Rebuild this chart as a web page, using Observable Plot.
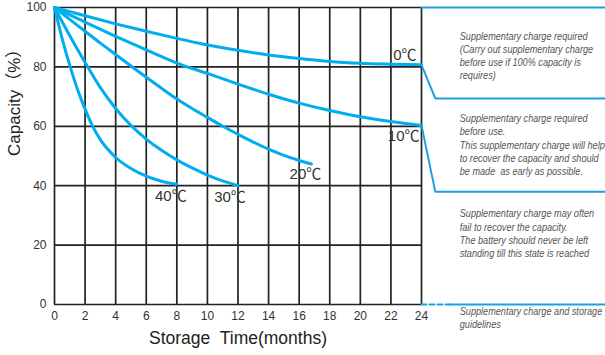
<!DOCTYPE html>
<html>
<head>
<meta charset="utf-8">
<script src="https://cdn.jsdelivr.net/npm/d3@7"></script>
<script src="https://cdn.jsdelivr.net/npm/@observablehq/plot@0.6"></script>
<style>
  html, body { margin: 0; padding: 0; background: #fff; }
  #chart { width: 605px; height: 355px; }
</style>
</head>
<body>
<div id="chart"></div>
<script>
// ---- Data ----
const series = ["0℃", "10℃", "20℃", "30℃", "40℃"];
const months0  = [0, 1, 2, 4, 6, 8, 10, 12, 14, 16, 18, 20, 22, 24];
const cap0     = [100, 98.6, 97.2, 94.5, 92, 89.6, 87.4, 85.6, 84, 82.8, 81.8, 81.2, 80.9, 80.7];
const months10 = [0, 1, 2, 4, 6, 8, 10, 12, 14, 16, 18, 20, 22, 24];
const cap10    = [100, 97.5, 95.1, 90.3, 85.7, 81.3, 77.8, 74.2, 70.8, 67.8, 65.3, 63.2, 61.6, 60.3];
const months20 = [0, 1, 2, 3, 4, 5, 6, 7, 8, 9, 10, 11, 12, 13, 14, 15, 16, 16.8];
const cap20    = [100, 96, 92, 88, 84.2, 80.3, 76.5, 72.8, 69.2, 66, 63, 60, 57.3, 54.7, 52.3, 50.2, 48.5, 47.3];
const months30 = [0, 1, 2, 3, 4, 5, 6, 7, 8, 9, 10, 11, 12];
const cap30    = [100, 90.5, 81.5, 73, 66, 60.3, 55.7, 51.9, 48.7, 46, 43.6, 41.6, 40];
const months40 = [0, 0.5, 1, 1.5, 2, 2.5, 3, 4, 5, 6, 7, 8];
const cap40    = [100, 89.5, 80.5, 72.5, 65.8, 60, 55.5, 49.5, 45.8, 43.2, 41.5, 40.5];

const xTicks = [0, 2, 4, 6, 8, 10, 12, 14, 16, 18, 20, 22, 24];
const yTicks = [0, 20, 40, 60, 80, 100];
const xTitle = "Storage  Time(months)";
const yTitle = "Capacity（%）";

// guideline zones on the right (x in months beyond the plot, y in %)
const zoneTopX = [24, 36];          const zoneTopY = [100, 100];
const zone1X   = [24, 24.9, 36];    const zone1Y   = [80.7, 69.4, 69.4];
const zone2X   = [24, 24.9, 36];    const zone2Y   = [60.3, 38.0, 38.0];
const zone3DashX = [24, 25.8];      const zone3DashY = [0, 0];
const zone3X   = [25.8, 36];        const zone3Y   = [0, 0];
const notes = [
  "Supplementary charge required\n(Carry out supplementary charge\nbefore use if 100% capacity is\nrequires)",
  "Supplementary charge required\nbefore use.\nThis supplementary charge will help\nto recover the capacity and should\nbe made  as early as possible.",
  "Supplementary charge may often\nfail to recover the capacity.\nThe battery should never be left\nstanding till this state is reached",
  "Supplementary charge and storage\nguidelines"
];
const notesX = [26.5, 26.5, 26.5, 26.5];
const notesY = [83.8, 53.9, 24.1, -4.2];

// ---- Build table ----
const monthsAll = [months0, months10, months20, months30, months40];
const capsAll = [cap0, cap10, cap20, cap30, cap40];
const rows = [];
series.forEach((s, i) => monthsAll[i].forEach((m, j) => rows.push({series: s, month: m, cap: capsAll[i][j]})));
const ends = series.map((s, i) => ({series: s, month: monthsAll[i][monthsAll[i].length - 1], cap: capsAll[i][capsAll[i].length - 1]}));
const labelDx = [-5, -2, -6, -8, -6];
const labelDy = [-10, 11, 10, 11, 12];

const curveColor = "#00aeef";
const zoneColor = "#1ba1e2";
const gridColor = "#222";
const fontMain = "Arial, 'Liberation Sans', 'Noto Sans CJK SC', sans-serif";

const zoneLine = (xs, ys, extra = {}) => Plot.line(xs.map((x, i) => ({x, y: ys[i]})), {x: "x", y: "y", stroke: zoneColor, strokeWidth: 2, ...extra});

const chart = Plot.plot({
  width: 605,
  height: 355,
  marginLeft: 54,
  marginRight: 184,
  marginTop: 7,
  marginBottom: 51,
  style: {background: "#fff", fontFamily: fontMain, overflow: "visible"},
  x: {domain: [0, 24]},
  y: {domain: [0, 100]},
  marks: [
    Plot.gridX(xTicks, {stroke: gridColor, strokeOpacity: 1, strokeWidth: 1.7}),
    Plot.gridY(yTicks, {stroke: gridColor, strokeOpacity: 1, strokeWidth: 1.7}),
    Plot.axisX(xTicks, {tickSize: 0, tickPadding: 7, fontSize: 12, fill: "#333", label: null}),
    Plot.axisY(yTicks, {tickSize: 0, tickPadding: 8, fontSize: 12, fill: "#333", label: null}),
    Plot.text([xTitle], {frameAnchor: "bottom", dy: 34, fontSize: 17.5, fill: "#222", lineAnchor: "middle"}),
    Plot.text([yTitle], {frameAnchor: "left", dx: -40, rotate: -90, fontSize: 17, fill: "#222", lineAnchor: "middle"}),
    Plot.line(rows, {x: "month", y: "cap", z: "series", stroke: curveColor, strokeWidth: 3, curve: "monotone-x"}),
    ...ends.map((e, i) => Plot.text([e], {x: "month", y: "cap", text: "series", dx: labelDx[i], dy: labelDy[i],
      textAnchor: i < 2 ? "end" : "middle", fontSize: 15, fill: "#333", fontFamily: fontMain})),
    zoneLine(zoneTopX, zoneTopY),
    zoneLine(zone1X, zone1Y),
    zoneLine(zone2X, zone2Y),
    zoneLine(zone3DashX, zone3DashY, {strokeDasharray: "5,3"}),
    zoneLine(zone3X, zone3Y),
    Plot.text(notes, {x: (d, i) => notesX[i], y: (d, i) => notesY[i], text: d => d, textAnchor: "start",
      lineAnchor: "middle", lineHeight: 1.25, fontSize: 10.5, fontStyle: "italic", fill: "#555",
      className: "notes", fontFamily: "Arial, 'Liberation Sans', sans-serif"})
  ]
});
// condense the guideline notes horizontally (the original uses a narrow italic face)
d3.select(chart).selectAll(".notes text").attr("transform", function () {
  return (this.getAttribute("transform") || "") + " scale(0.87,1)";
});
document.getElementById("chart").appendChild(chart);
</script>
</body>
</html>
